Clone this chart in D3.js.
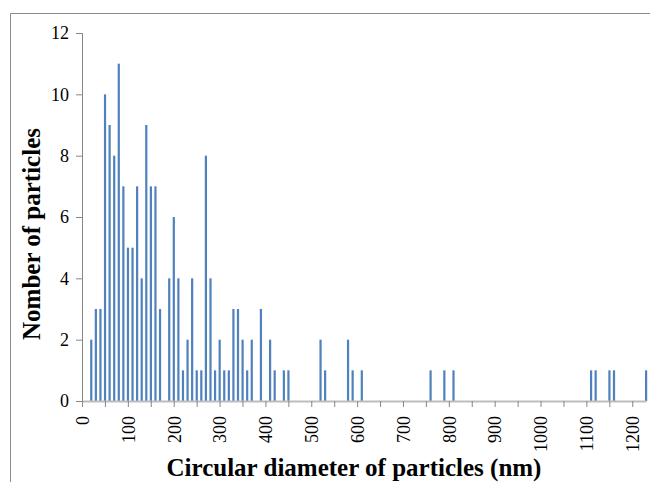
<!DOCTYPE html>
<html>
<head>
<meta charset="utf-8">
<script src="https://cdn.jsdelivr.net/npm/d3@7"></script>
<style>
  body { margin: 0; background: #fff; }
</style>
</head>
<body>
<div id="chart"></div>
<script>
// circular diameter bins (nm) and particle counts
const diameters = [20, 30, 40, 50, 60, 70, 80, 90, 100, 110, 120, 130, 140, 150, 160, 170,
  190, 200, 210, 220, 230, 240, 250, 260, 270, 280, 290, 300, 310, 320, 330, 340, 350, 360, 370,
  390, 410, 420, 440, 450, 520, 530, 580, 590, 610, 760, 790, 810, 1110, 1120, 1150, 1160, 1230]
const counts = [2, 3, 3, 10, 9, 8, 11, 7, 5, 5, 7, 4, 9, 7, 7, 3,
  4, 6, 4, 1, 2, 4, 1, 1, 8, 4, 1, 2, 1, 1, 3, 3, 2, 1, 2,
  3, 2, 1, 1, 1, 2, 1, 2, 1, 1, 1, 1, 1, 1, 1, 1, 1, 1]
const xTicks = d3.range(0, 1201, 50)
const xLabels = d3.range(0, 1201, 100)
const yTicks = [0, 2, 4, 6, 8, 10, 12]

const data = diameters.map((d, i) => ({d: d, n: counts[i]}))

const serif = "'Liberation Serif', 'Times New Roman', serif"
const width = 650, height = 482
const margin = {top: 33, right: 4, bottom: 81, left: 82}

const svg = d3.select("#chart")
  .append("svg")
  .attr("width", width)
  .attr("height", height)

// outer frame (only left and top edges are visible in the picture)
svg.append("path")
  .attr("d", `M10.5,${height} V13.5 H${width}`)
  .attr("fill", "none")
  .attr("stroke", "#8c8c8c")
  .attr("stroke-width", 1)

const x = d3.scaleLinear()
  .domain([0, 1230])
  .range([margin.left, width - margin.right])

const y = d3.scaleLinear()
  .domain([0, 12])
  .range([height - margin.bottom, margin.top])

// bars
svg.selectAll(".bar")
  .data(data)
  .join("rect")
  .attr("class", "bar")
  .attr("x", d => x(d.d) - 1)
  .attr("y", d => y(d.n))
  .attr("width", 2.2)
  .attr("height", d => y(0) - y(d.n))
  .attr("fill", "#4f81bd")

// y axis
const yAxis = svg.append("g")
  .attr("transform", `translate(${margin.left},0)`)
  .call(d3.axisLeft(y).tickValues(yTicks).tickSize(6).tickPadding(7))
yAxis.select(".domain").attr("stroke", "#868686")
yAxis.selectAll(".tick line").attr("stroke", "#868686")
yAxis.selectAll(".tick text")
  .style("font-family", serif)
  .style("font-size", "18px")
  .attr("fill", "#000")

// x axis
const xAxis = svg.append("g")
  .attr("transform", `translate(0,${y(0)})`)
  .call(d3.axisBottom(x).tickValues(xTicks).tickSize(6).tickSizeOuter(0)
    .tickFormat(d => xLabels.includes(d) ? d : ""))
xAxis.select(".domain").attr("stroke", "#bdbdbd").attr("stroke-width", 2)
xAxis.selectAll(".tick line").attr("stroke", "#868686")
xAxis.selectAll(".tick text")
  .style("font-family", serif)
  .style("font-size", "18px")
  .attr("fill", "#000")
  .attr("text-anchor", "end")
  .attr("transform", "rotate(-90)")
  .attr("x", -15)
  .attr("y", 0)
  .attr("dy", "0.35em")

// axis titles
svg.append("text")
  .attr("x", 354)
  .attr("y", 476)
  .attr("text-anchor", "middle")
  .style("font-family", serif)
  .style("font-size", "25px")
  .attr("font-weight", "bold")
  .text("Circular diameter of particles (nm)")

svg.append("text")
  .attr("transform", "translate(40,234) rotate(-90)")
  .attr("text-anchor", "middle")
  .style("font-family", serif)
  .style("font-size", "25px")
  .attr("font-weight", "bold")
  .text("Nomber of particles")
</script>
</body>
</html>
